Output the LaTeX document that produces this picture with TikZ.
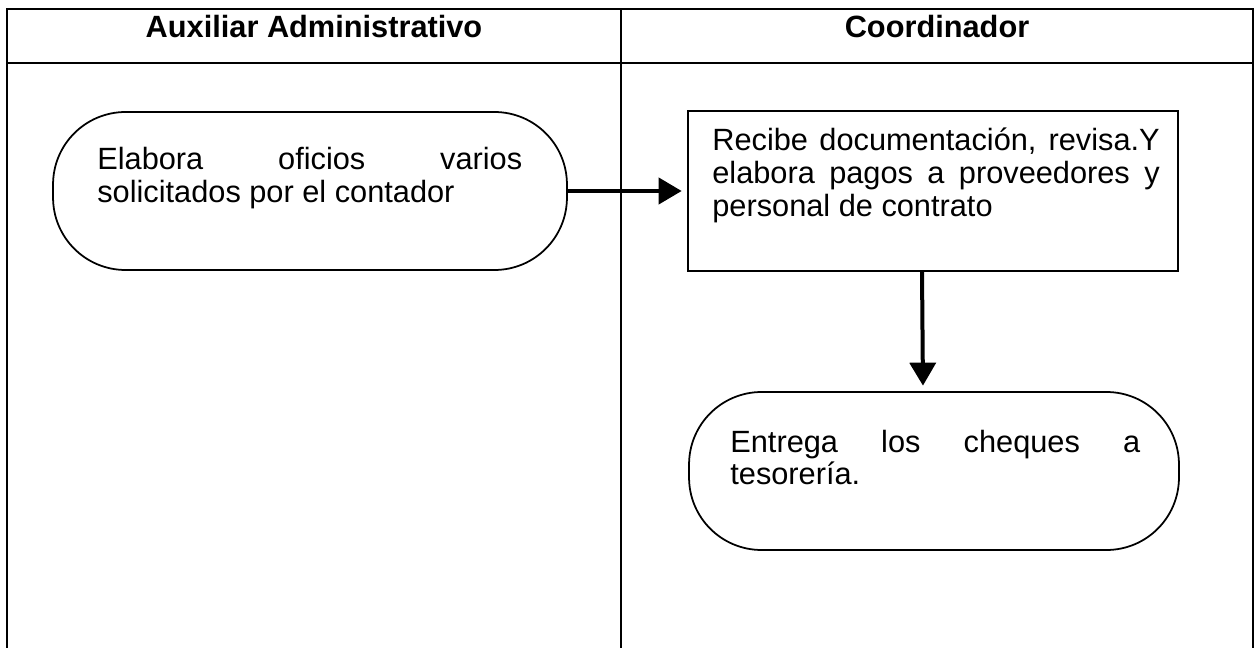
\documentclass[tikz,border=0pt]{standalone}
\usepackage{fontspec}
\setmainfont{Liberation Sans}
\usetikzlibrary{arrows.meta}
\hyphenpenalty=10000
\exhyphenpenalty=10000

\begin{document}
\begin{tikzpicture}[x=0.02cm,y=-0.02cm,font=\fontsize{17.5}{18.5}\selectfont]
    \tikzstyle{lane line}=[line width=0.6pt]
    \tikzstyle{header node}=[anchor=base,inner sep=0,font=\fontsize{17.5}{18.5}\selectfont\bfseries]
    \tikzstyle{stadium node}=[draw,line width=1pt,rounded corners=1.45cm,minimum width=10.28cm,minimum height=3.16cm,inner sep=0]
    \tikzstyle{box node}=[draw,line width=1pt,minimum width=9.8cm,minimum height=3.2cm,inner sep=0]
    \tikzstyle{text node}=[anchor=base west,inner sep=0,align=justify]
    \tikzstyle{flow}=[line width=0.08cm,-{Triangle[length=0.46cm,width=0.52cm]},shorten >=0.11cm]

    \useasboundingbox (0,0) rectangle (1254,648);

    % lanes
    \draw[lane line] (7,648)--(7,9)--(1253,9)--(1253,648);
    \draw[lane line] (7,63)--(1253,63);
    \draw[lane line] (621,9)--(621,648);
    \node(aux)[header node] at (314,38) {Auxiliar Administrativo};
    \node(coord)[header node] at (937,38) {Coordinador};

    % steps
    \node(elabora)[stadium node] at (310,191) {};
    \node(recibe)[box node] at (933,191) {};
    \node(entrega)[stadium node,minimum width=9.8cm] at (934,471) {};

    \node(t1)[text node,text width=8.5cm] at (97,170) {Elabora oficios varios solicitados por el contador};
    \node(t2)[text node,text width=8.95cm] at (712,151) {Recibe documentación, revisa.Y elabora pagos a proveedores y personal de contrato};
    \node(t3)[text node,text width=8.2cm] at (730,452) {Entrega los cheques a tesorería.};

    \draw[flow](elabora)--(recibe);
    \draw[flow]([xshift=-0.22cm]recibe.south)--([xshift=-0.22cm]entrega.north);
\end{tikzpicture}
\end{document}
